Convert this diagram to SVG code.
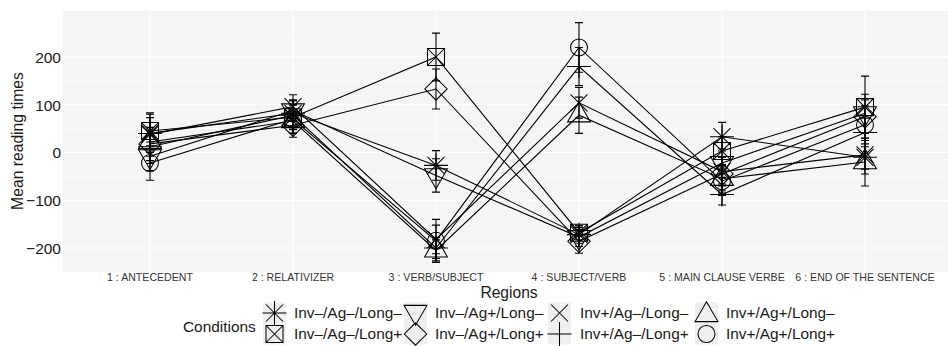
<svg xmlns="http://www.w3.org/2000/svg" width="948" height="346" viewBox="0 0 948 346">
<style>
text{font-family:"Liberation Sans",Arial,sans-serif;fill:#1a1a1a}
.yt{font-size:15.5px;text-anchor:end}
.xt{font-size:10.6px;text-anchor:middle;fill:#333}
.lg{font-size:15.4px}
.gmaj{stroke:#fff;stroke-width:1.1;fill:none}
.gmin{stroke:#fff;stroke-width:0.55;fill:none}
.ln{fill:none;stroke:#000;stroke-width:1.1}
.eb{fill:none;stroke:#000;stroke-width:1.1}
.pt{fill:none;stroke:#000;stroke-width:1.05}
.key{fill:#efefef}
</style>
<defs>
<path id="s-star" class="pt" d="M-8.5,-8.5L8.5,8.5M-8.5,8.5L8.5,-8.5M-12,0H12M0,-12V12"/>
<path id="s-sqx" class="pt" d="M-8.5,-8.5H8.5V8.5H-8.5ZM-8.5,-8.5L8.5,8.5M-8.5,8.5L8.5,-8.5"/>
<path id="s-dtri" class="pt" d="M-11.45,-6.61H11.45L0,13.22Z"/>
<path id="s-dia" class="pt" d="M0,-11.2L11.2,0L0,11.2L-11.2,0Z"/>
<path id="s-x" class="pt" d="M-8.5,-8.5L8.5,8.5M-8.5,8.5L8.5,-8.5"/>
<path id="s-plus" class="pt" d="M-12,0H12M0,-12V12"/>
<path id="s-tri" class="pt" d="M-11.45,6.61H11.45L0,-13.22Z"/>
<circle id="s-circ" class="pt" r="8.5"/>
</defs>
<rect x="0" y="0" width="948" height="346" fill="#fff"/>
<g id="panel">
<rect x="63" y="11" width="885" height="261" fill="#f5f5f5"/>
<path class="gmin" d="M63,33.13H948M63,80.88H948M63,128.63H948M63,176.38H948M63,224.13H948"/>
<path class="gmaj" d="M63,57H948M63,104.75H948M63,152.5H948M63,200.25H948M63,248H948M150,11V272M293,11V272M436,11V272M579,11V272M722,11V272M865,11V272"/>
</g>
<g id="y-axis">
<text class="yt" x="61" y="62.8">200</text>
<text class="yt" x="61" y="110.5">100</text>
<text class="yt" x="61" y="158.3">0</text>
<text class="yt" x="61" y="206">−100</text>
<text class="yt" x="61" y="253.8">−200</text>
<text transform="translate(23,141) rotate(-90)" style="font-size:15.7px;text-anchor:middle">Mean reading times</text>
</g>
<g id="x-axis">
<text class="xt" x="150" y="281">1 : ANTECEDENT</text>
<text class="xt" x="293" y="281">2 : RELATIVIZER</text>
<text class="xt" x="436" y="281">3 : VERB/SUBJECT</text>
<text class="xt" x="579" y="281">4 : SUBJECT/VERB</text>
<text class="xt" x="722" y="281">5 : MAIN CLAUSE VERBE</text>
<text class="xt" x="865" y="281">6 : END OF THE SENTENCE</text>
<text x="509" y="298" style="font-size:15.6px;text-anchor:middle">Regions</text>
</g>
<g id="connectors">
<polyline class="ln" points="150,133.40 293,113.34 436,165.39 579,234.63 722,136.74 865,157.28"/>
<polyline class="ln" points="150,131.01 293,117.17 436,57.0 579,232.72 722,151.07 865,107.14"/>
<polyline class="ln" points="150,156.32 293,110.48 436,175.42 579,237.02 722,163.01 865,113.35"/>
<polyline class="ln" points="150,143.91 293,125.28 436,88.99 579,241.32 722,173.99 865,116.69"/>
<polyline class="ln" points="150,134.36 293,106.66 436,239.41 579,102.84 722,171.6 865,154.89"/>
<polyline class="ln" points="150,146.77 293,115.26 436,248.0 579,66.55 722,194.52 865,132.44"/>
<polyline class="ln" points="150,141.99 293,120.99 436,250.39 579,115.26 722,178.76 865,162.05"/>
<polyline class="ln" points="150,163.01 293,119.08 436,240.84 579,47.45 722,181.15 865,124.81"/>
</g>
<g id="cond-inv-ag-long-">
<path class="eb" d="M150,114.30V152.50M146,114.30h8M146,152.50h8M293,99.97V126.71M289,99.97h8M289,126.71h8M436,150.59V180.19M432,150.59h8M432,180.19h8M579,226.03V243.23M575,226.03h8M575,243.23h8M722,122.41V151.07M718,122.41h8M718,151.07h8M865,140.57V173.99M861,140.57h8M861,173.99h8"/>
<use href="#s-star" x="150" y="133.40"/><use href="#s-star" x="293" y="113.34"/><use href="#s-star" x="436" y="165.39"/><use href="#s-star" x="579" y="234.63"/><use href="#s-star" x="722" y="136.74"/><use href="#s-star" x="865" y="157.28"/>
</g>
<g id="cond-inv-ag-long+">
<path class="eb" d="M150,112.86V149.16M146,112.86h8M146,149.16h8M293,105.23V129.11M289,105.23h8M289,129.11h8M436,33.12V80.88M432,33.12h8M432,80.88h8M579,225.56V239.88M575,225.56h8M575,239.88h8M722,136.74V165.40M718,136.74h8M718,165.40h8M865,76.10V138.18M861,76.10h8M861,138.18h8"/>
<use href="#s-sqx" x="150" y="131.01"/><use href="#s-sqx" x="293" y="117.17"/><use href="#s-sqx" x="436" y="57.0"/><use href="#s-sqx" x="579" y="232.72"/><use href="#s-sqx" x="722" y="151.07"/><use href="#s-sqx" x="865" y="107.14"/>
</g>
<g id="cond-inv-ag+long-">
<path class="eb" d="M150,141.99V170.65M146,141.99h8M146,170.65h8M293,99.98V120.98M289,99.98h8M289,120.98h8M436,158.71V192.13M432,158.71h8M432,192.13h8M579,227.47V246.57M575,227.47h8M575,246.57h8M722,148.68V177.34M718,148.68h8M718,177.34h8M865,94.25V132.45M861,94.25h8M861,132.45h8"/>
<use href="#s-dtri" x="150" y="156.32"/><use href="#s-dtri" x="293" y="110.48"/><use href="#s-dtri" x="436" y="175.42"/><use href="#s-dtri" x="579" y="237.02"/><use href="#s-dtri" x="722" y="163.01"/><use href="#s-dtri" x="865" y="113.35"/>
</g>
<g id="cond-inv-ag+long+">
<path class="eb" d="M150,127.20V160.62M146,127.20h8M146,160.62h8M293,113.34V137.22M289,113.34h8M289,137.22h8M436,68.93V109.05M432,68.93h8M432,109.05h8M579,229.38V253.26M575,229.38h8M575,253.26h8M722,157.28V190.70M718,157.28h8M718,190.70h8M865,99.98V133.40M861,99.98h8M861,133.40h8"/>
<use href="#s-dia" x="150" y="143.91"/><use href="#s-dia" x="293" y="125.28"/><use href="#s-dia" x="436" y="88.99"/><use href="#s-dia" x="579" y="241.32"/><use href="#s-dia" x="722" y="173.99"/><use href="#s-dia" x="865" y="116.69"/>
</g>
<g id="cond-inv+ag-long-">
<path class="eb" d="M150,117.65V151.07M146,117.65h8M146,151.07h8M293,94.72V118.60M289,94.72h8M289,118.60h8M436,225.08V253.74M432,225.08h8M432,253.74h8M579,87.56V118.12M575,87.56h8M575,118.12h8M722,157.27V185.93M718,157.27h8M718,185.93h8M865,140.56V169.22M861,140.56h8M861,169.22h8"/>
<use href="#s-x" x="150" y="134.36"/><use href="#s-x" x="293" y="106.66"/><use href="#s-x" x="436" y="239.41"/><use href="#s-x" x="579" y="102.84"/><use href="#s-x" x="722" y="171.6"/><use href="#s-x" x="865" y="154.89"/>
</g>
<g id="cond-inv+ag-long+">
<path class="eb" d="M150,130.06V163.48M146,130.06h8M146,163.48h8M293,100.93V129.59M289,100.93h8M289,129.59h8M436,237.5V258.5M432,237.5h8M432,258.5h8M579,47.45V85.65M575,47.45h8M575,85.65h8M722,184.02V205.02M718,184.02h8M718,205.02h8M865,118.11V146.77M861,118.11h8M861,146.77h8"/>
<use href="#s-plus" x="150" y="146.77"/><use href="#s-plus" x="293" y="115.26"/><use href="#s-plus" x="436" y="248.0"/><use href="#s-plus" x="579" y="66.55"/><use href="#s-plus" x="722" y="194.52"/><use href="#s-plus" x="865" y="132.44"/>
</g>
<g id="cond-inv+ag+long-">
<path class="eb" d="M150,127.66V156.32M146,127.66h8M146,156.32h8M293,109.05V132.93M289,109.05h8M289,132.93h8M436,239.89V260.89M432,239.89h8M432,260.89h8M579,97.11V133.41M575,97.11h8M575,133.41h8M722,164.43V193.09M718,164.43h8M718,193.09h8M865,138.17V185.93M861,138.17h8M861,185.93h8"/>
<use href="#s-tri" x="150" y="141.99"/><use href="#s-tri" x="293" y="120.99"/><use href="#s-tri" x="436" y="250.39"/><use href="#s-tri" x="579" y="115.26"/><use href="#s-tri" x="722" y="178.76"/><use href="#s-tri" x="865" y="162.05"/>
</g>
<g id="cond-inv+ag+long+">
<path class="eb" d="M150,145.82V180.20M146,145.82h8M146,180.20h8M293,104.75V133.41M289,104.75h8M289,133.41h8M436,219.35V262.33M432,219.35h8M432,262.33h8M579,22.62V72.28M575,22.62h8M575,72.28h8M722,166.82V195.48M718,166.82h8M718,195.48h8M865,105.71V143.91M861,105.71h8M861,143.91h8"/>
<use href="#s-circ" x="150" y="163.01"/><use href="#s-circ" x="293" y="119.08"/><use href="#s-circ" x="436" y="240.84"/><use href="#s-circ" x="579" y="47.45"/><use href="#s-circ" x="722" y="181.15"/><use href="#s-circ" x="865" y="124.81"/>
</g>
<g id="legend">
<text class="lg" x="183" y="332">Conditions</text>
<rect class="key" x="263" y="302.5" width="23" height="21"/>
<rect class="key" x="263" y="323.5" width="23" height="21"/>
<rect class="key" x="404" y="302.5" width="23" height="21"/>
<rect class="key" x="404" y="323.5" width="23" height="21"/>
<rect class="key" x="548" y="302.5" width="23" height="21"/>
<rect class="key" x="548" y="323.5" width="23" height="21"/>
<rect class="key" x="695" y="302.5" width="23" height="21"/>
<rect class="key" x="695" y="323.5" width="23" height="21"/>
<use href="#s-star" x="274.5" y="313"/>
<use href="#s-sqx" x="274.5" y="334"/>
<use href="#s-dtri" x="415.5" y="312"/>
<use href="#s-dia" x="415.5" y="334"/>
<use href="#s-x" x="559.5" y="313"/>
<use href="#s-plus" x="559.5" y="334"/>
<use href="#s-tri" x="706.5" y="315"/>
<use href="#s-circ" x="706.5" y="334"/>
<text class="lg" x="294" y="318">Inv–/Ag–/Long–</text>
<text class="lg" x="294" y="339">Inv–/Ag–/Long+</text>
<text class="lg" x="435" y="318">Inv–/Ag+/Long–</text>
<text class="lg" x="435" y="339">Inv–/Ag+/Long+</text>
<text class="lg" x="580" y="318">Inv+/Ag–/Long–</text>
<text class="lg" x="580" y="339">Inv+/Ag–/Long+</text>
<text class="lg" x="726" y="318">Inv+/Ag+/Long–</text>
<text class="lg" x="726" y="339">Inv+/Ag+/Long+</text>
</g>
</svg>
